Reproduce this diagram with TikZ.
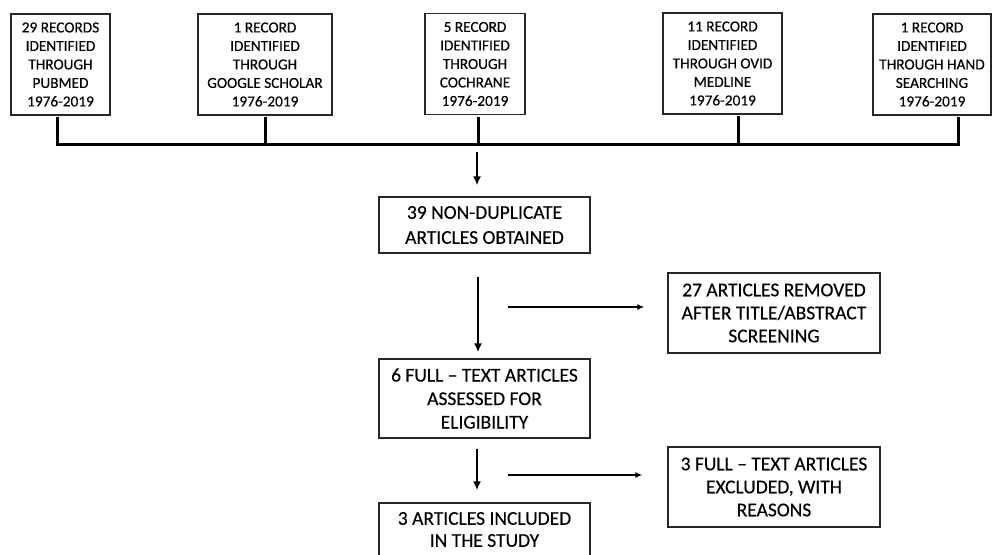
\documentclass[tikz,border=0pt]{standalone}
\usepackage{fontspec}
\setmainfont{Carlito}[FakeBold=0.3]
\usetikzlibrary{arrows.meta}
\begin{document}
\begin{tikzpicture}[x=1pt,y=-1pt,
  topbox/.style={draw=black!85,line width=1.3pt,inner sep=0pt,align=center,
    minimum height=101pt,font=\fontsize{15.3}{18.5}\selectfont},
  flowbox/.style={draw=black!85,line width=1.3pt,inner sep=0pt,align=center,
    minimum width=211pt,font=\fontsize{19.5}{23.5}\selectfont},
  bus/.style={line width=3pt,line cap=rect,line join=miter},
  varrow/.style={line width=2.4pt,-{Latex[length=9pt,width=8pt]}},
  harrow/.style={line width=1.5pt,-{Latex[length=7pt,width=6pt]}}]
\clip (0,0) rectangle (992,554);
\fill[white] (0,0) rectangle (992,554);
% top boxes
\node[topbox,minimum width=99pt]  (b1) at (60.5,64.5) {29 RECORDS\\IDENTIFIED\\THROUGH\\PUBMED\\1976-2019};
\node[topbox,minimum width=134pt] (b2) at (265,64.5) {1 RECORD\\IDENTIFIED\\THROUGH\\GOOGLE SCHOLAR\\1976-2019};
\node[topbox,minimum width=100pt] (b3) at (475,64) {5 RECORD\\IDENTIFIED\\THROUGH\\COCHRANE\\1976-2019};
\node[topbox,minimum width=119pt] (b4) at (722.5,63.5) {11 RECORD\\IDENTIFIED\\THROUGH OVID\\MEDLINE\\1976-2019};
\node[topbox,minimum width=118pt] (b5) at (932,64.5) {1 RECORD\\IDENTIFIED\\THROUGH HAND\\SEARCHING\\1976-2019};
% bus junctions
\coordinate (j1) at (57,144);
\coordinate (j2) at (265,144);
\coordinate (j3) at (478,144);
\coordinate (j4) at (738,144);
\coordinate (j5) at (958,144);
\draw[bus] ([yshift=-3pt]b1.south -| j1) -- (j1) -- (j5) -- ([yshift=-3pt]b5.south -| j5);
\draw[bus] ([yshift=-3pt]b2.south -| j2) -- (j2);
\draw[bus] ([yshift=-3pt]b3.south -| j3) -- (j3);
\draw[bus] ([yshift=-3pt]b4.south -| j4) -- (j4);
% flow boxes
\node[flowbox,minimum height=56pt,font=\fontsize{19.5}{25}\selectfont] (n39) at (484.5,225) {39 NON-DUPLICATE\\ARTICLES OBTAINED};
\node[flowbox,minimum height=79pt] (n6) at (484.5,398.5) {6 FULL – TEXT ARTICLES\\ASSESSED FOR\\ELIGIBILITY};
\node[flowbox,minimum height=53pt,font=\fontsize{19.5}{22}\selectfont] (n3) at (484.5,529.5) {3 ARTICLES INCLUDED\\IN THE STUDY};
\node[flowbox,minimum width=212pt,minimum height=80pt,font=\fontsize{19.5}{23}\selectfont] (n27) at (774,313) {27 ARTICLES REMOVED\\AFTER TITLE/ABSTRACT\\SCREENING};
\node[flowbox,minimum width=212pt,minimum height=80pt,font=\fontsize{19.5}{23}\selectfont] (nx) at (774,487) {3 FULL – TEXT ARTICLES\\EXCLUDED, WITH\\REASONS};
% vertical arrows
\coordinate (a0) at (477,152);
\coordinate (a) at (478,300);
\draw[varrow] (a0) -- ([yshift=11pt]n39.north -| a0);
\draw[varrow] ([yshift=-23pt]n39.south -| a) -- ([yshift=6pt]n6.north -| a);
\draw[varrow] ([yshift=-10pt]n6.south -| a0) -- ([yshift=12pt]n3.north -| a0);
% horizontal arrows
\coordinate (h1) at (508,307);
\coordinate (h2) at (508,475);
\draw[harrow] (h1) -- ([xshift=-23pt]n27.west |- h1);
\draw[harrow] (h2) -- ([xshift=-25pt]nx.west |- h2);
\end{tikzpicture}
\end{document}
